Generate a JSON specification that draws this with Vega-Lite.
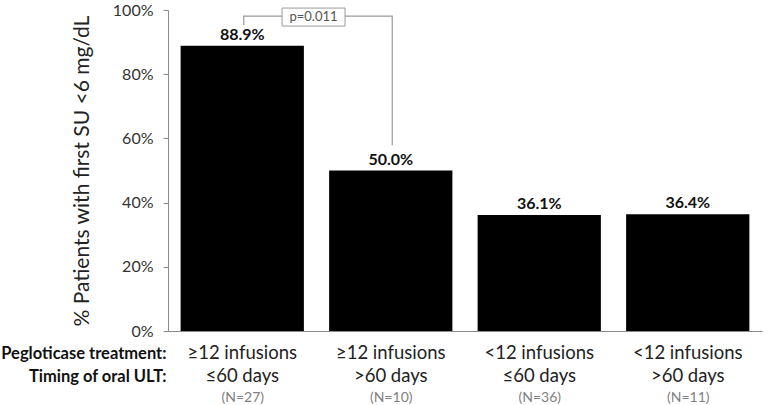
{
  "$schema": "https://vega.github.io/schema/vega-lite/v6.json",
  "width": 594,
  "height": 321,
  "autosize": "none",
  "padding": {"left": 168, "top": 10, "right": 7, "bottom": 74},
  "background": "white",
  "config": {"view": {"stroke": null}, "font": "Lato"},
  "datasets": {
    "bars": [
      {"cat": "≥12 infusions|≤60 days", "n": "(N=27)", "pct": 0.889},
      {"cat": "≥12 infusions|>60 days", "n": "(N=10)", "pct": 0.5},
      {"cat": "<12 infusions|≤60 days", "n": "(N=36)", "pct": 0.361},
      {"cat": "<12 infusions|>60 days", "n": "(N=11)", "pct": 0.364}
    ],
    "bracket": [
      {"order": 1, "bx": 0.51, "by": 0.953},
      {"order": 2, "bx": 0.51, "by": 0.981},
      {"order": 3, "bx": 1.51, "by": 0.981},
      {"order": 4, "bx": 1.51, "by": 0.579}
    ],
    "pbox": [
      {"x1": 0.768, "x2": 1.192, "y1": 0.95, "y2": 1.006, "xm": 0.98, "ym": 0.978, "label": "p=0.011"}
    ]
  },
  "resolve": {"scale": {"x": "independent"}, "axis": {"x": "independent"}},
  "layer": [
    {
      "data": {"name": "bars"},
      "mark": {"type": "bar", "color": "#000000"},
      "encoding": {
        "x": {
          "field": "cat", "type": "nominal", "sort": null,
          "scale": {"paddingInner": 0.17, "paddingOuter": 0.085},
          "axis": {
            "orient": "bottom",
            "labelExpr": "split(datum.label, '|')",
            "labelFont": "Lato", "labelFontSize": 18.5, "labelColor": "#222222",
            "labelLineHeight": 23, "labelPadding": 12, "labelAngle": 0,
            "ticks": false, "domainColor": "#8a8a8a", "domainWidth": 1,
            "title": ["Pegloticase treatment:", "Timing of oral ULT:"],
            "titleFont": "Lato", "titleFontSize": 16.5, "titleFontWeight": "bold",
            "titleColor": "#111111", "titleAlign": "right", "titleBaseline": "top",
            "titleX": -2, "titleY": 14, "titleLineHeight": 23, "titleAngle": 0
          }
        },
        "y": {
          "field": "pct", "type": "quantitative",
          "scale": {"domain": [0, 1]},
          "axis": {
            "values": [0, 0.2, 0.4, 0.6, 0.8, 1], "format": ".0%", "grid": false,
            "domainColor": "#8a8a8a", "tickColor": "#8a8a8a", "tickSize": 5,
            "labelFont": "Lato", "labelFontSize": 16, "labelColor": "#333333", "labelPadding": 10,
            "title": "% Patients with first SU <6 mg/dL",
            "titleFont": "Lato", "titleFontSize": 21, "titleFontWeight": "normal",
            "titleColor": "#222222", "titlePadding": 20
          }
        }
      }
    },
    {
      "data": {"name": "bars"},
      "mark": {"type": "text", "baseline": "bottom", "dy": -3, "font": "Lato", "fontSize": 16, "fontWeight": "bold", "color": "#111111"},
      "encoding": {
        "x": {
          "field": "n", "type": "nominal", "sort": null,
          "scale": {"paddingInner": 0.17, "paddingOuter": 0.085},
          "axis": {
            "orient": "bottom", "domain": false, "ticks": false, "title": null,
            "labelFont": "Lato", "labelFontSize": 14, "labelColor": "#7f7f7f",
            "labelPadding": 59, "labelAngle": 0
          }
        },
        "y": {"field": "pct", "type": "quantitative"},
        "text": {"field": "pct", "type": "quantitative", "format": ".1%"}
      }
    },
    {
      "data": {"name": "bracket"},
      "mark": {"type": "line", "color": "#9a9a9a", "strokeWidth": 1.2},
      "encoding": {
        "x": {"field": "bx", "type": "quantitative", "scale": {"domain": [0, 4], "nice": false, "zero": false}, "axis": null},
        "y": {"field": "by", "type": "quantitative"},
        "order": {"field": "order"}
      }
    },
    {
      "data": {"name": "pbox"},
      "mark": {"type": "rect", "fill": "white", "stroke": "#9a9a9a", "strokeWidth": 1},
      "encoding": {
        "x": {"field": "x1", "type": "quantitative", "scale": {"domain": [0, 4], "nice": false, "zero": false}, "axis": null},
        "x2": {"field": "x2"},
        "y": {"field": "y1", "type": "quantitative"},
        "y2": {"field": "y2"}
      }
    },
    {
      "data": {"name": "pbox"},
      "mark": {"type": "text", "font": "Lato", "fontSize": 13, "color": "#555555", "baseline": "middle"},
      "encoding": {
        "x": {"field": "xm", "type": "quantitative", "scale": {"domain": [0, 4], "nice": false, "zero": false}, "axis": null},
        "y": {"field": "ym", "type": "quantitative"},
        "text": {"field": "label"}
      }
    }
  ]
}
